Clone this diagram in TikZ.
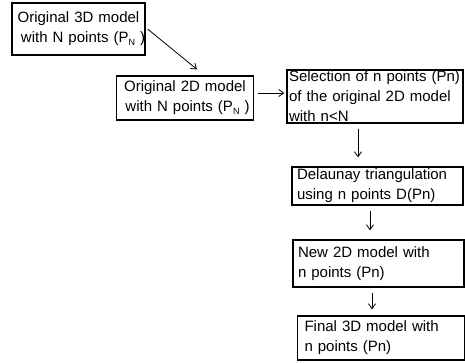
\documentclass[tikz,border=0pt]{standalone}
\usepackage{fontspec}
\setmainfont{Liberation Sans}
\usetikzlibrary{arrows.meta}
\newcommand{\subN}{\raisebox{-0.35ex}{\fontsize{9}{9}\selectfont N}}
\begin{document}
\begin{tikzpicture}[x=1pt,y=-1pt,
  box/.style={draw, line width=1.2pt, rectangle, font=\fontsize{15}{20}\selectfont, inner ysep=0pt},
  arr/.style={line width=0.8pt, -{Straight Barb[length=5pt,width=7pt,line width=0.8pt]}}]
\useasboundingbox (0,0) rectangle (465,362);
\node[box, minimum width=133pt, minimum height=52pt, text width=125pt, align=center] (b1) at (78.5,29)
  {\mbox{Original 3D model}\\ \mbox{ with N points (P\subN\ )}};
\node[box, minimum width=136pt, minimum height=44pt, text width=130pt, align=center] (b2) at (185,98)
  {\mbox{Original 2D model}\\ \mbox{ with N points (P\subN\ )}};
\node[box, minimum width=176pt, minimum height=53pt, text width=172pt, inner xsep=2pt, align=left] (b3) at (375,96.5)
  {\mbox{Selection of n points (Pn)}\\\mbox{of the original 2D model}\\\mbox{with n<N}};
\node[box, minimum width=171pt, minimum height=38pt, text width=161pt, inner xsep=5pt, align=left] (b4) at (377.5,186)
  {\mbox{Delaunay triangulation}\\\mbox{using n points D(Pn)}};
\node[box, minimum width=171pt, minimum height=47pt, text width=161pt, inner xsep=5pt, align=left] (b5) at (378.5,263.5)
  {\mbox{New 2D model with}\\\mbox{n points (Pn)}};
\node[box, minimum width=167pt, minimum height=44pt, text width=153pt, inner xsep=7pt, align=left] (b6) at (381,338)
  {\mbox{Final 3D model with}\\\mbox{n points (Pn)}};
\coordinate (x3) at (358,0);
\coordinate (x4) at (370,0);
\coordinate (x5) at (372,0);
\draw[arr] ([xshift=2pt]b1.east) -- ([xshift=12pt,yshift=6pt]b2.north);
\draw[arr] ([xshift=4pt,yshift=5pt]b2.east) -- ([xshift=-2pt,yshift=3.5pt]b3.west);
\draw[arr] ([yshift=-5pt]b3.south -| x3) -- ([yshift=9pt]b4.north -| x3);
\draw[arr] ([yshift=-5pt]b4.south -| x4) -- ([yshift=9pt]b5.north -| x4);
\draw[arr] ([yshift=-5pt]b5.south -| x5) -- ([yshift=6pt]b6.north -| x5);
\end{tikzpicture}
\end{document}
